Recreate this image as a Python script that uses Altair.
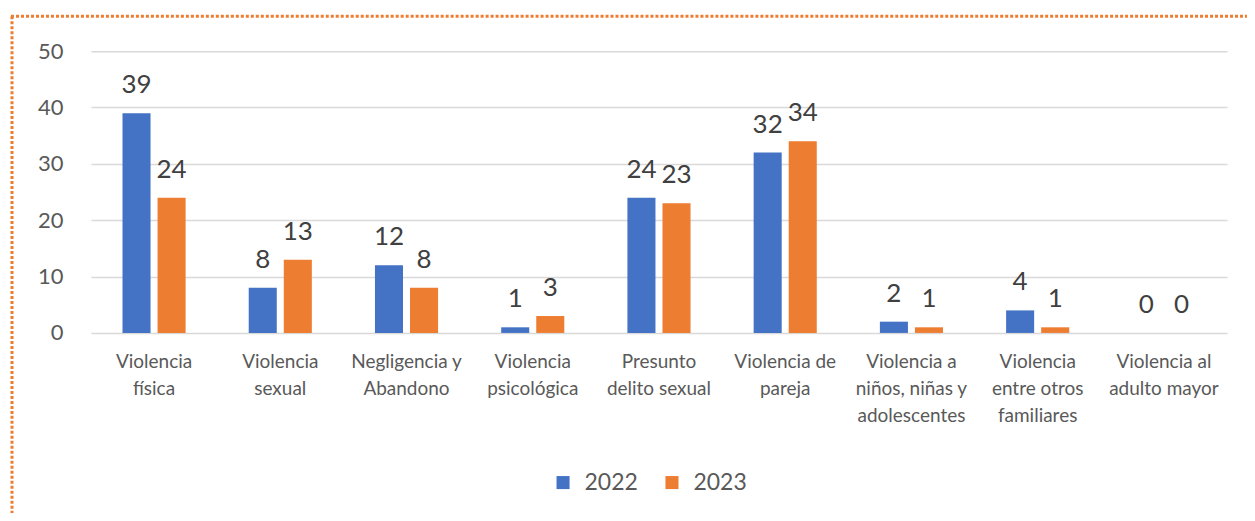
import json
import altair as alt
import pandas as pd

categories = [
    "Violencia física",
    "Violencia sexual",
    "Negligencia y Abandono",
    "Violencia psicológica",
    "Presunto delito sexual",
    "Violencia de pareja",
    "Violencia a niños, niñas y adolescentes",
    "Violencia entre otros familiares",
    "Violencia al adulto mayor",
]
label_lines = [
    ["Violencia", "física"],
    ["Violencia", "sexual"],
    ["Negligencia y", "Abandono"],
    ["Violencia", "psicológica"],
    ["Presunto", "delito sexual"],
    ["Violencia de", "pareja"],
    ["Violencia a", "niños, niñas y", "adolescentes"],
    ["Violencia", "entre otros", "familiares"],
    ["Violencia al", "adulto mayor"],
]
years = ["2022", "2023"]
values_2022 = [39, 8, 12, 1, 24, 32, 2, 4, 0]
values_2023 = [24, 13, 8, 3, 23, 34, 1, 1, 0]
year_colors = ["#4472C4", "#ED7D31"]

rows = []
for c, v in zip(categories, values_2022):
    rows.append({"cat": c, "year": "2022", "value": v})
for c, v in zip(categories, values_2023):
    rows.append({"cat": c, "year": "2023", "value": v})
df = pd.DataFrame(rows)

label_map = json.dumps(dict(zip(categories, label_lines)), ensure_ascii=False)

FONT = "Lato"
GREY = "#595959"

x_enc = alt.X(
    "cat:N",
    sort=categories,
    title=None,
    scale=alt.Scale(paddingInner=0.5, paddingOuter=0.25),
    axis=alt.Axis(
        labelAngle=0,
        labelExpr=label_map + "[datum.value]",
        labelFont=FONT,
        labelFontSize=19,
        labelColor=GREY,
        labelLineHeight=27,
        labelBaseline="top",
        labelPadding=20,
        ticks=False,
        domain=False,
        grid=False,
        labelLimit=200,
    ),
)
xoff_enc = alt.XOffset("year:N", sort=years, scale=alt.Scale(paddingInner=0.2, paddingOuter=0))
y_enc = alt.Y(
    "value:Q",
    title=None,
    scale=alt.Scale(domain=[0, 50]),
    axis=alt.Axis(
        values=[0, 10, 20, 30, 40, 50],
        labelFont=FONT,
        labelFontSize=22,
        labelColor=GREY,
        labelPadding=28,
        ticks=False,
        domain=False,
        gridColor="#D9D9D9",
        gridWidth=1.5,
    ),
)

base = alt.Chart(df)
bars = base.mark_bar().encode(
    x=x_enc,
    xOffset=xoff_enc,
    y=y_enc,
    color=alt.Color(
        "year:N",
        sort=years,
        scale=alt.Scale(domain=years, range=year_colors),
        legend=alt.Legend(
            title=None,
            orient="none",
            legendX=461,
            legendY=420,
            direction="horizontal",
            symbolType="square",
            symbolSize=170,
            symbolStrokeWidth=0,
            labelFont=FONT,
            labelFontSize=23,
            labelColor=GREY,
            labelOffset=10,
            columnPadding=22,
        ),
    ),
)
texts = base.mark_text(
    font=FONT, fontSize=26, color="#404040", baseline="alphabetic", dy=-20
).encode(
    x=x_enc,
    xOffset=xoff_enc,
    y=y_enc,
    text="value:Q",
)

dummy = alt.Chart(pd.DataFrame({"a": [0]}))
top_border = dummy.mark_rule(color="#ED7D31", strokeWidth=3, strokeDash=[3, 2]).encode(
    x=alt.value(-80), x2=alt.value(1170), y=alt.value(-35)
)
left_border = dummy.mark_rule(color="#ED7D31", strokeWidth=3, strokeDash=[3, 2]).encode(
    x=alt.value(-79), y=alt.value(-35), y2=alt.value(475)
)

chart = (
    alt.layer(bars, texts, top_border, left_border)
    .properties(
        width=1137,
        height=282,
        autosize=alt.AutoSizeParams(type="none"),
        padding={"left": 83, "top": 43, "right": 20, "bottom": 180},
    )
    .configure(background="white")
    .configure_view(strokeWidth=0)
)

chart.save("out.html", embed_options={"renderer": "svg", "actions": False})
